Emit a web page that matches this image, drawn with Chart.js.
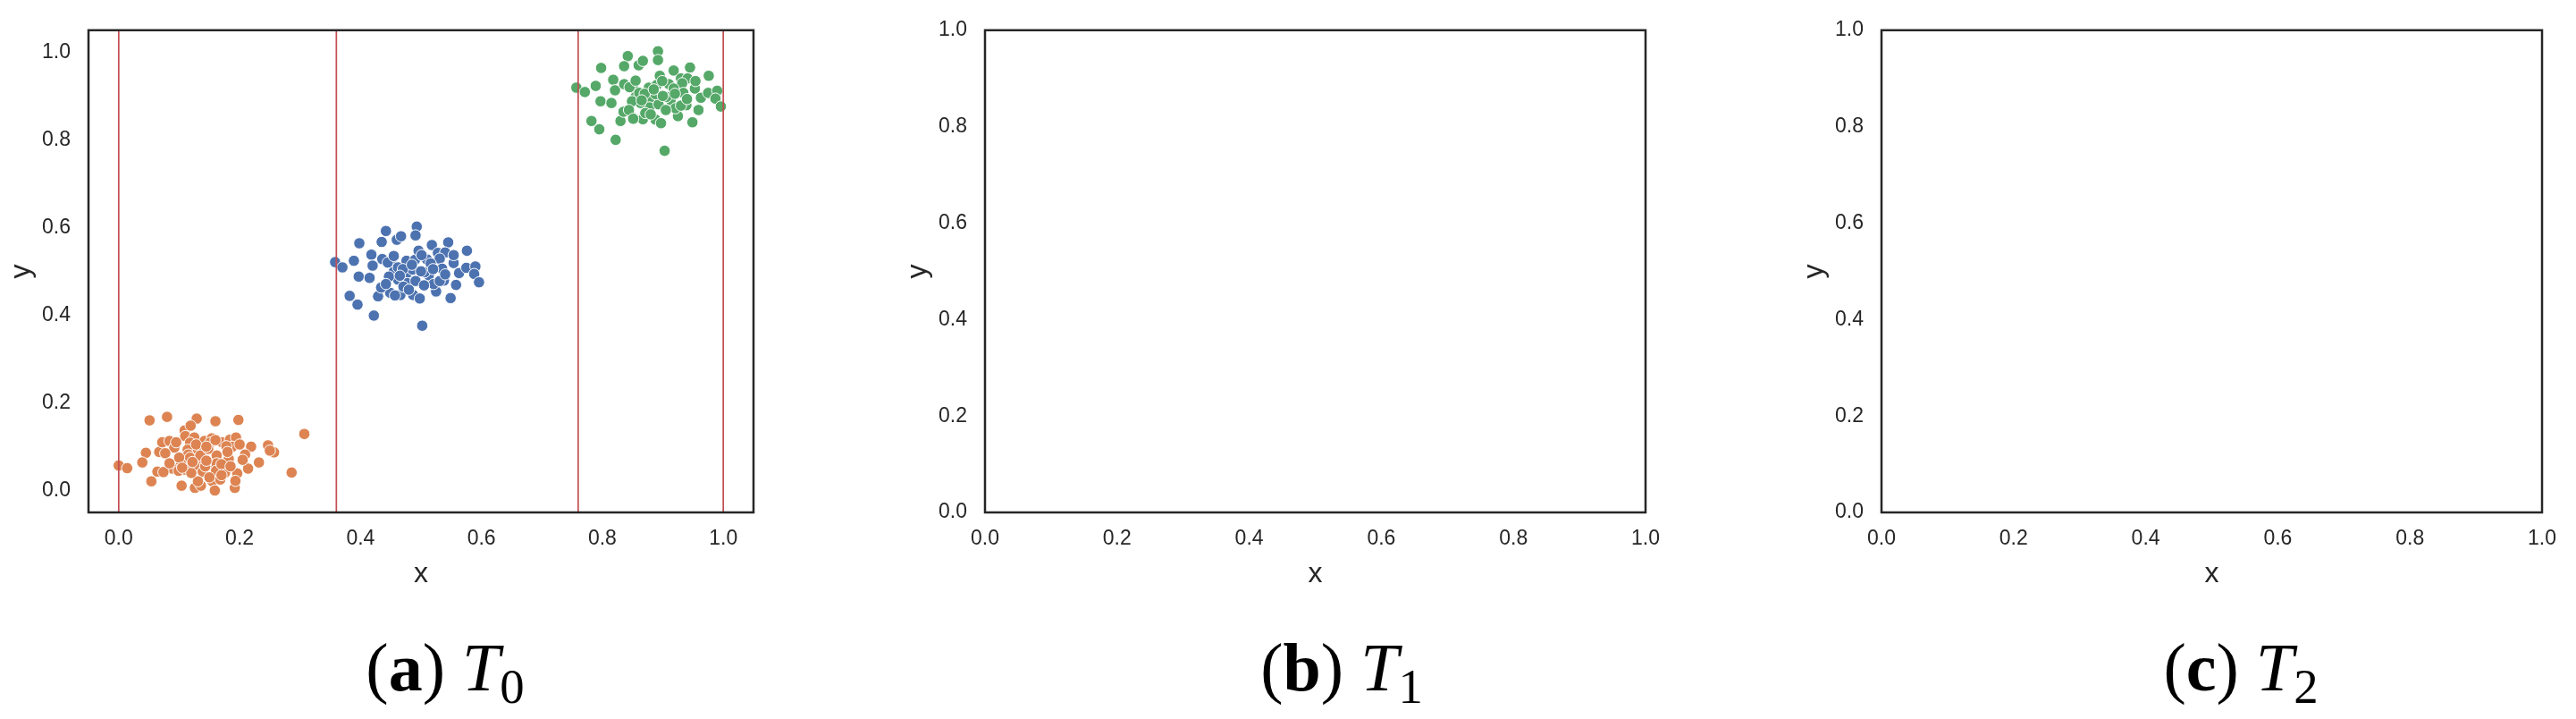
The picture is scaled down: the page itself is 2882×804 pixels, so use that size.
<!DOCTYPE html>
<html>
<head>
<meta charset="utf-8">
<script src="https://cdn.jsdelivr.net/npm/chart.js@4/dist/chart.umd.min.js"></script>
<style>
  body { margin: 0; background: #fff; }
  #fig { position: relative; width: 2882px; height: 804px; overflow: hidden; background: #fff; }
  .panel { position: absolute; top: 0; }
  .cap {
    position: absolute; top: 708px; transform: translateX(-50%);
    font-family: "Liberation Serif", "DejaVu Serif", serif; font-size: 76px;
    line-height: 1; white-space: nowrap; color: #000;
  }
  .cap sub { font-size: 0.72em; vertical-align: -14px; line-height: 0; }
</style>
</head>
<body>
<div id="fig">
  <canvas class="panel" id="p0" width="870" height="661" style="left:0px"></canvas>
  <canvas class="panel" id="p1" width="870" height="661" style="left:1003px"></canvas>
  <canvas class="panel" id="p2" width="870" height="661" style="left:2006px"></canvas>
  <div class="cap" style="left:498px">(<b>a</b>)&nbsp;<i>T</i><sub>0</sub></div>
  <div class="cap" style="left:1501px">(<b>b</b>)&nbsp;<i>T</i><sub>1</sub></div>
  <div class="cap" style="left:2507px">(<b>c</b>)&nbsp;<i>T</i><sub>2</sub></div>
</div>
<script>
// положения красных вертикальных разделителей
const splitX = [0, 0.36, 0.76, 1.0];
const tickValues = [0, 0.2, 0.4, 0.6, 0.8, 1.0];
const tickLabels = ['0.0', '0.2', '0.4', '0.6', '0.8', '1.0'];

const orangeX = [0.000, 0.014, 0.051, 0.080, 0.129, 0.160, 0.198, 0.307, 0.286, 0.045,
  0.039, 0.054, 0.067, 0.072, 0.084, 0.092, 0.109, 0.119, 0.110, 0.125,
  0.118, 0.114, 0.131, 0.142, 0.154, 0.151, 0.171, 0.184, 0.194, 0.188,
  0.219, 0.247, 0.257, 0.209, 0.182, 0.162, 0.138, 0.125, 0.103, 0.089,
  0.064, 0.074, 0.099, 0.111, 0.139, 0.151, 0.162, 0.161, 0.176, 0.196,
  0.214, 0.232, 0.104, 0.126, 0.136, 0.131, 0.155, 0.168, 0.159, 0.192,
  0.193, 0.115, 0.077, 0.084, 0.118, 0.143, 0.178, 0.250, 0.135, 0.100,
  0.170, 0.148, 0.120, 0.180, 0.128, 0.145, 0.160, 0.122, 0.145, 0.105,
  0.185, 0.200, 0.095, 0.170, 0.150, 0.205];
const orangeY = [0.057, 0.051, 0.160, 0.168, 0.164, 0.158, 0.161, 0.129, 0.041, 0.086,
  0.064, 0.021, 0.088, 0.110, 0.113, 0.098, 0.137, 0.148, 0.124, 0.121,
  0.109, 0.093, 0.093, 0.113, 0.119, 0.109, 0.110, 0.116, 0.121, 0.100,
  0.100, 0.103, 0.087, 0.082, 0.072, 0.080, 0.070, 0.057, 0.062, 0.050,
  0.043, 0.042, 0.045, 0.047, 0.043, 0.058, 0.062, 0.045, 0.041, 0.039,
  0.050, 0.064, 0.011, 0.006, 0.011, 0.021, 0.021, 0.025, 0.000, 0.006,
  0.022, 0.082, 0.085, 0.062, 0.075, 0.055, 0.101, 0.091, 0.080, 0.075,
  0.060, 0.095, 0.040, 0.088, 0.105, 0.100, 0.115, 0.065, 0.068, 0.052,
  0.055, 0.105, 0.110, 0.035, 0.030, 0.070];

const blueX = [0.358, 0.370, 0.389, 0.398, 0.442, 0.435, 0.460, 0.467, 0.493, 0.491,
  0.518, 0.545, 0.576, 0.418, 0.420, 0.397, 0.415, 0.436, 0.382, 0.395,
  0.422, 0.502, 0.429, 0.449, 0.466, 0.487, 0.498, 0.525, 0.549, 0.558,
  0.434, 0.451, 0.455, 0.462, 0.476, 0.490, 0.477, 0.496, 0.510, 0.528,
  0.540, 0.531, 0.554, 0.554, 0.535, 0.513, 0.506, 0.521, 0.538, 0.563,
  0.575, 0.590, 0.588, 0.596, 0.477, 0.491, 0.462, 0.447, 0.516, 0.501,
  0.486, 0.471, 0.442, 0.531, 0.457, 0.470, 0.485, 0.500, 0.465, 0.520,
  0.445, 0.505, 0.480, 0.540, 0.455];
const blueY = [0.521, 0.509, 0.524, 0.564, 0.592, 0.567, 0.572, 0.580, 0.602, 0.582,
  0.560, 0.566, 0.547, 0.538, 0.513, 0.488, 0.485, 0.528, 0.444, 0.424,
  0.399, 0.376, 0.443, 0.451, 0.446, 0.446, 0.438, 0.454, 0.439, 0.469,
  0.463, 0.519, 0.499, 0.509, 0.524, 0.526, 0.496, 0.547, 0.527, 0.542,
  0.543, 0.529, 0.519, 0.537, 0.506, 0.491, 0.498, 0.471, 0.479, 0.496,
  0.508, 0.511, 0.494, 0.475, 0.473, 0.478, 0.481, 0.488, 0.518, 0.537,
  0.504, 0.465, 0.471, 0.478, 0.445, 0.505, 0.515, 0.500, 0.490, 0.505,
  0.520, 0.468, 0.458, 0.493, 0.535];

const greenX = [0.757, 0.771, 0.789, 0.798, 0.842, 0.836, 0.860, 0.867, 0.892, 0.892,
  0.918, 0.945, 0.976, 0.818, 0.821, 0.797, 0.815, 0.836, 0.782, 0.795,
  0.822, 0.903, 0.830, 0.850, 0.867, 0.888, 0.897, 0.925, 0.949, 0.959,
  0.835, 0.851, 0.855, 0.861, 0.877, 0.890, 0.878, 0.895, 0.910, 0.930,
  0.941, 0.932, 0.953, 0.954, 0.934, 0.913, 0.906, 0.921, 0.939, 0.963,
  0.975, 0.990, 0.987, 0.996, 0.878, 0.893, 0.863, 0.849, 0.918, 0.899,
  0.888, 0.871, 0.844, 0.930, 0.851, 0.870, 0.885, 0.900, 0.865, 0.920,
  0.845, 0.905, 0.880, 0.940, 0.855];
const greenY = [0.919, 0.909, 0.923, 0.964, 0.991, 0.968, 0.970, 0.980, 1.002, 0.982,
  0.958, 0.965, 0.946, 0.937, 0.913, 0.888, 0.884, 0.927, 0.843, 0.824,
  0.800, 0.775, 0.843, 0.851, 0.847, 0.846, 0.838, 0.854, 0.840, 0.868,
  0.864, 0.917, 0.898, 0.907, 0.919, 0.925, 0.894, 0.946, 0.927, 0.940,
  0.940, 0.929, 0.917, 0.934, 0.907, 0.891, 0.898, 0.872, 0.879, 0.896,
  0.907, 0.912, 0.894, 0.876, 0.874, 0.881, 0.884, 0.888, 0.917, 0.934,
  0.904, 0.861, 0.868, 0.878, 0.848, 0.905, 0.915, 0.900, 0.890, 0.905,
  0.920, 0.868, 0.858, 0.893, 0.935];

const INK = '#262626';
const FONT = '"Liberation Sans", Arial, sans-serif';

const pts = (xs, ys) => xs.map((x, i) => ({ x, y: ys[i] }));

// рамка вокруг области графика (все четыре стороны)
const frame = {
  id: 'frame',
  afterDatasetsDraw(chart) {
    const { ctx, chartArea: a } = chart;
    ctx.save();
    ctx.strokeStyle = INK;
    ctx.lineWidth = 2.5;
    ctx.strokeRect(a.left, a.top, a.right - a.left, a.bottom - a.top);
    ctx.restore();
  },
};

function axis(name, lim) {
  const isX = name === 'x';
  return {
    type: 'linear',
    min: lim[0],
    max: lim[1],
    grid: { display: false, drawTicks: false },
    border: { display: false },
    afterBuildTicks: s => { s.ticks = tickValues.map(v => ({ value: v })); },
    afterFit: s => { if (isX) s.height = 88; else s.width = 99; },
    ticks: {
      autoSkip: false,
      maxRotation: 0,
      padding: isX ? 16 : 20,
      color: INK,
      font: { family: FONT, size: 23 },
      callback: (v, i) => tickLabels[i],
    },
    title: {
      display: true,
      text: name,
      color: INK,
      font: { family: FONT, size: 32 },
      padding: isX ? 0 : { top: 5, bottom: 0 },
    },
  };
}

function scatterSet(xs, ys, color) {
  return {
    data: pts(xs, ys),
    backgroundColor: color,
    borderColor: '#ffffff',
    borderWidth: 1,
    pointRadius: 6.3,
    order: 1,
  };
}

function splitSet(v, lim) {
  return {
    data: [{ x: v, y: lim[0] }, { x: v, y: lim[1] }],
    showLine: true,
    borderColor: '#c44e52',
    borderWidth: 1.7,
    pointRadius: 0,
    order: 0,
  };
}

function makeChart(id, lim, datasets) {
  return new Chart(document.getElementById(id), {
    type: 'scatter',
    data: { datasets },
    options: {
      responsive: false,
      animation: false,
      events: [],
      layout: { padding: { top: 18, right: 27, left: 0, bottom: 0 } },
      plugins: { legend: { display: false }, tooltip: { enabled: false } },
      scales: { x: axis('x', lim), y: axis('y', lim) },
    },
    plugins: [frame],
  });
}

const lim0 = [-0.05, 1.05];
makeChart('p0', lim0, [
  ...splitX.map(v => splitSet(v, lim0)),
  scatterSet(blueX, blueY, '#4c72b0'),
  scatterSet(orangeX, orangeY, '#dd8452'),
  scatterSet(greenX, greenY, '#55a868'),
]);
makeChart('p1', [0, 1], []);
makeChart('p2', [0, 1], []);
</script>
</body>
</html>
